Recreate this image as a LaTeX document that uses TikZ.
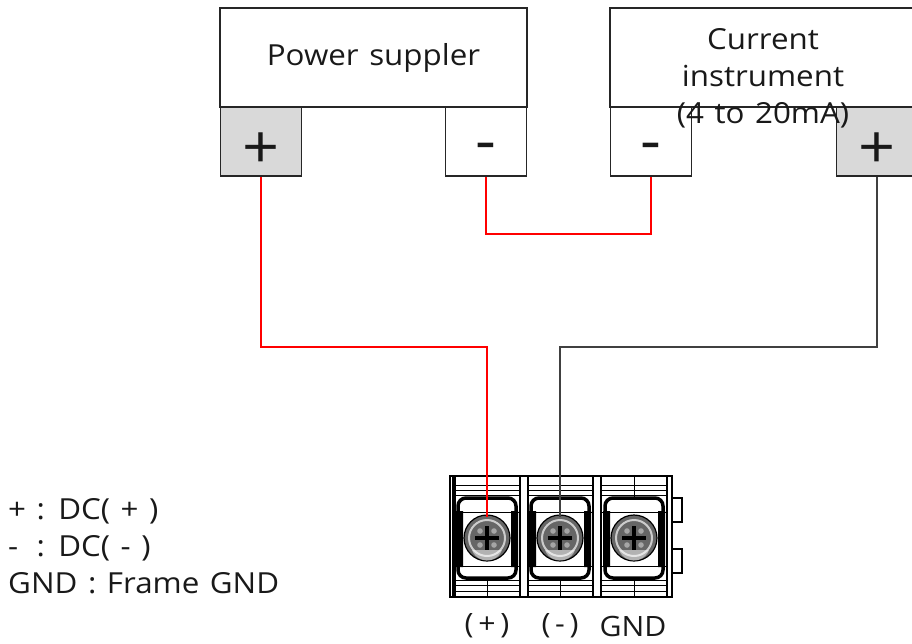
\documentclass[tikz,border=0pt]{standalone}
\usepackage{fontspec}
\setmainfont{Open Sans}[FakeStretch=1.08, WordSpace=1.3]
\tikzset{
  box/.style={draw=black!85, line width=1.5pt, inner sep=0pt},
  term/.style={draw=black!85, line width=1.5pt, minimum width=81pt, minimum height=69pt, inner sep=0pt},
  termsign/.style={font=\fontsize{60}{60}\selectfont, inner sep=0pt, text=black!90},
  redwire/.style={red, line width=1.5pt},
  blkwire/.style={black!75, line width=1.5pt},
  lbl/.style={font=\fontsize{29}{37}\selectfont, text=black!90, inner sep=0pt}
}
\begin{document}
\begin{tikzpicture}[x=1pt,y=-1pt]
\useasboundingbox (0,0) rectangle (912,643);
\clip (0,0) rectangle (912,643);
% units
\node[box, lbl, minimum width=307pt, minimum height=99pt] (ps) at (373.5,57.5) {Power suppler};
\node[box, minimum width=307pt, minimum height=99pt] (ci) at (763.5,57.5) {};
\node[term, fill=black!15, label={[termsign, yshift=-9pt]center:+}] (psp) at (261,141.5) {};
\node[term, fill=white, label={[termsign, yshift=-11pt]center:-}] (psm) at (486,141.5) {};
\node[term, fill=white, label={[termsign, yshift=-11pt]center:-}] (cim) at (651,141.5) {};
\node[term, fill=black!15, label={[termsign, yshift=-9pt]center:+}] (cip) at (877,141.5) {};
\node[lbl, align=center] (citxt) at (763,78) {Current\\instrument\\(4 to 20mA)};
% terminal block
\draw[line width=1.5pt] (450,476) rectangle (672,597);
\draw[line width=1.5pt] (672,498) rectangle (682,522);
\draw[line width=1.5pt] (672,549) rectangle (682,573);
\draw[line width=1.2pt] (453,476) -- (453,597);
\draw[line width=1.2pt] (667,476) -- (667,597);
\foreach \l/\r/\n in {455/520/1, 528/593/2, 601/667/3}{
  \pgfmathtruncatemacro{\c}{(\l+\r)/2}
  \draw[line width=1.2pt] (\l,476) -- (\l,597) (\r,476) -- (\r,597);
  \foreach \y in {485,490,495,580,585,591}
    \draw[line width=1pt] (\l,\y) -- (\r,\y);
  \draw[line width=0.9pt] (\c,476) -- (\c,499) (\c,577) -- (\c,597);
  \draw[line width=1pt] (\l,512) -- (\r,512) (\l,566) -- (\r,566);
  \draw[line width=3.5pt, rounded corners=8pt, fill=white] (\c-29,498) rectangle (\c+29,578);
  \fill (\c-31,511) rectangle (\c-24,567) (\c+24,511) rectangle (\c+31,567);
  \draw[line width=1pt] (\c-24,512) -- (\c+24,512) (\c-24,566) -- (\c+24,566);
  \draw[fill=black!60, line width=1.2pt] (\c,538) circle (23pt);
  \draw[black!20, line width=2pt] (\c,538) circle (18pt);
  \fill[white, opacity=0.5] (\c-15,550) arc (200:340:16pt) -- cycle;
  \draw[black, line width=4.5pt] (\c-12,538) -- (\c+12,538) (\c,526) -- (\c,550);
  \fill[black!35] (\c-7,531) circle (2.8pt) (\c+7,531) circle (2.8pt)
    (\c-7,545) circle (2.8pt) (\c+7,545) circle (2.8pt);
  \coordinate (scr\n) at (\c,517);
}
% wiring
\coordinate (j1) at (scr1 |- 0,347);
\coordinate (j3) at (scr2 |- 0,347);
\draw[redwire] (psp.south) |- (j1) -- (scr1);
\draw[redwire] (psm.south) -- ++(0,57) -| (cim.south);
\draw[blkwire] (cip.south) |- (j3) -- (scr2);
% labels
\node[lbl, font=\fontsize{28}{28}\selectfont] (lp) at (487,626) {(\,+\,)};
\node[lbl, font=\fontsize{28}{28}\selectfont] (lm) at (560,626) {(\,-\,)};
\node[lbl, font=\fontsize{28}{28}\selectfont] (lg) at (633,626) {GND};
\node[lbl, anchor=west, align=left] (legend) at (8,546)
  {+ : DC( + )\\\rlap{-}\phantom{+} : DC( - )\\GND : Frame GND};
\end{tikzpicture}
\end{document}
